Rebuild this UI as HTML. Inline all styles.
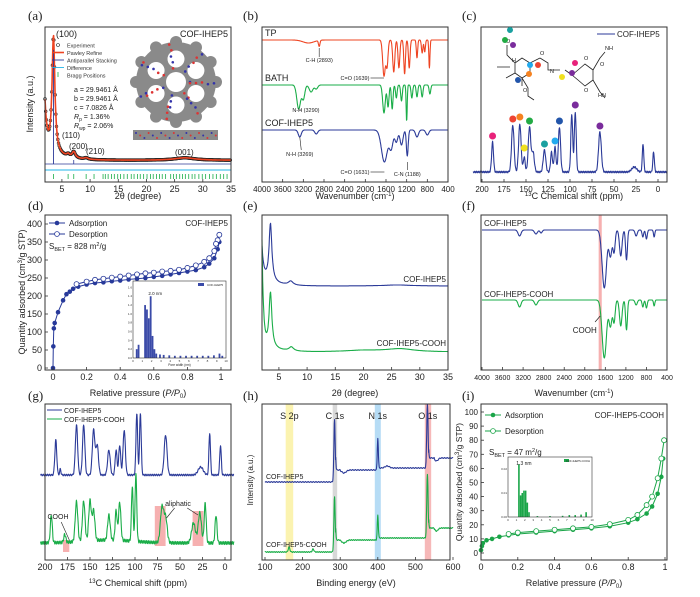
<!DOCTYPE html>
<html><head><meta charset="utf-8">
<style>
html,body{margin:0;padding:0;background:#fff;}
svg{display:block;font-family:"Liberation Sans",sans-serif;}
</style></head>
<body>
<svg id="fig" width="700" height="597" viewBox="0 0 700 597" xmlns="http://www.w3.org/2000/svg"></svg>
<script>
// ---------- DATA ----------
// (a) PXRD [2theta, intensity, halfwidth]
const aPeaks = [[3.5,0.95,0.3],[6.1,0.02,0.3],[7.1,0.05,0.35],[9.3,0.012,0.4],[26.8,0.02,2.2]];
const aBragg = [3.5,6.1,7.1,9.3,10.7,12.3,12.7,13.2,13.8,14.3,14.9,15.4,16.0,16.6,17.3,17.8,18.4,18.9,19.5,20.1,20.7,21.2,21.8,22.3,22.8,23.4,24.3,24.8,25.3,25.9,26.4,26.9,27.5,28.1,28.6,29.3,29.9,30.5,31.2,31.8,32.4,33.1,33.7,34.3];
const aTicks = [5,10,15,20,25,30,35];
// (b) FTIR monomers [position, depth px, width]
const bTP = [[3100,3,150],[2893,6,20],[1639,36,35],[1580,26,28],[1450,32,28],[1350,28,25],[1240,34,22],[1150,28,22],[1000,18,18],[900,13,20],[850,12,18],[760,28,15]];
const bBATH = [[3290,24,50],[3200,14,40],[3050,7,50],[2950,4,40],[1639,28,35],[1560,22,25],[1480,24,22],[1400,13,22],[1300,16,22],[1200,36,15],[1100,13,22],[1000,12,22],[900,12,22],[750,9,22]];
const bCOF = [[3269,7,40],[2950,4,40],[1631,32,80],[1500,18,50],[1400,12,40],[1300,15,40],[1188,26,25],[1000,7,40],[800,5,40]];
const bTicks = [4000,3600,3200,2800,2400,2000,1600,1200,800,400];
// (c) 13C NMR [ppm, height px, width]
const cPeaks = [[188,30,1.5],[165,47,2],[157,48,2],[152,15,1.5],[146,45,2],[142,20,2],[129,22,2],[121,20,1.5],[117,25,1.5],[112,45,1.8],[98,58,1.5],[94,60,1.5],[66,40,2.2],[27,5,4],[17,28,1.2],[5,20,1.2]];
const cDots = [[188,'#e8227a',36],[165,'#ee4433',53],[157,'#f58220',55],[152,'#f0e020',24],[146,'#22aa44',51],[129,'#1aa0a0',28],[117,'#22aaee',31],[112,'#2255aa',51],[94,'#7a2c9c',67],[66,'#7a2c9c',46]];
const cTicks = [200,175,150,125,100,75,50,25,0];
// (d) N2 isotherm COF-IHEP5
const dAdsX = [0,0.002,0.005,0.01,0.03,0.06,0.08,0.1,0.12,0.15,0.2,0.25,0.3,0.35,0.4,0.45,0.5,0.55,0.6,0.65,0.7,0.75,0.8,0.85,0.9,0.93,0.96,0.98,0.99];
const dAdsY = [0,60,110,125,155,188,205,212,220,226,232,236,238,241,243,246,248,250,253,256,260,264,268,272,280,290,305,330,350];
const dDesX = [0.99,0.98,0.97,0.96,0.93,0.9,0.85,0.8,0.75,0.7,0.65,0.6,0.55,0.5,0.45,0.4,0.35,0.3,0.25,0.2,0.14];
const dDesY = [370,355,345,325,305,295,285,278,273,270,268,265,263,260,257,254,251,248,245,240,233];
const dHistX = [0.4,0.6,1.3,1.5,1.7,1.9,2.1,2.3,2.5,2.9,3.3,3.9,4.5,5.1,5.7,6.3,6.9,7.5,8.1,8.7,9.3,9.6];
const dHistY = [0.2,0.3,1.2,1.1,0.9,1.4,0.5,0.2,0.1,0.08,0.07,0.06,0.05,0.05,0.05,0.05,0.05,0.05,0.05,0.06,0.1,0.05];
const dTicksX = [0,0.2,0.4,0.6,0.8,1.0];
const dTicksY = [0,50,100,150,200,250,300,350,400];
// (e) PXRD comparison [2theta, height px, halfwidth]
const eBlue = [[3.5,58,0.3],[7.1,4,0.5],[26,1,3]];
const eGreen = [[3.5,55,0.3],[7.2,4,0.5],[26.5,3,3],[20,1.5,4]];
const eTicks = [5,10,15,20,25,30,35];
// (f) FTIR comparison
const fBlue = [[3269,6,40],[2950,4,40],[2850,3,30],[1620,58,60],[1500,26,40],[1430,22,30],[1300,26,35],[1188,30,25],[1000,6,30],[870,7,22],[800,9,22],[650,7,18]];
const fGreen = [[3269,7,40],[2950,5,40],[1620,58,60],[1500,26,40],[1430,22,30],[1300,26,35],[1188,30,25],[1000,5,30],[870,7,22],[800,8,22],[650,6,18]];
const fTicks = [4000,3600,3200,2800,2400,2000,1600,1200,800,400];
// (g) NMR comparison
const gBlue = [[188,35,1.5],[183,6,1],[165,50,1.8],[157,50,1.8],[146,45,2],[142,30,2],[129,25,2],[121,25,1.5],[117,30,1.5],[112,45,1.8],[98,62,1.3],[94,62,1.3],[66,40,2.2],[27,8,4],[17,42,1.2],[5,30,1.2]];
const gGreen = [[193,28,1.5],[178,8,1.5],[165,40,2],[157,40,2],[150,40,2],[146,30,2],[129,25,2],[121,30,1.5],[117,38,1.8],[103,55,1.3],[99,68,1.3],[70,35,2.5],[66,25,2.5],[35,20,3],[28,30,2.5],[22,40,1.5],[10,28,1.5]];
const gTicks = [200,175,150,125,100,75,50,25,0];
// (h) XPS [eV, height px, width]
const hBlue = [[285,62,2.5],[400,32,2],[532,64,2.5],[425,2,8]];
const hGreen = [[164,5,3],[228,3,3],[285,55,2.5],[400,25,2],[532,64,2.5]];
const hTicks = [100,200,300,400,500,600];
// (i) N2 isotherm COF-IHEP5-COOH
const iAdsX = [0,0.005,0.01,0.03,0.06,0.1,0.15,0.2,0.3,0.4,0.5,0.6,0.7,0.8,0.85,0.9,0.93,0.96,0.98,0.99];
const iAdsY = [2,5,7,9,10,11.5,12.5,13.5,14.5,15.5,16.5,17.5,19,21.5,24,28,33,42,54,67];
const iDesX = [0.995,0.98,0.96,0.93,0.9,0.85,0.8,0.7,0.6,0.5,0.4,0.3,0.2,0.15];
const iDesY = [80,67,53,40,34,27,23.5,20.5,18.5,17.5,16.5,15.5,14.5,13.5];
const iHistX = [1.3,1.5,1.7,1.9,2.1,2.3,2.5,3.5,5,6.5,7.3,8,8.7,9.3];
const iHistY = [0.022,0.009,0.010,0.011,0.011,0.006,0.002,0.0004,0.0004,0.0005,0.0008,0.0008,0.001,0.002];
const iTicksX = [0,0.2,0.4,0.6,0.8,1.0];
const iTicksY = [0,10,20,30,40,50,60,70,80,90,100];

// ---------- HELPERS ----------
const NS = 'http://www.w3.org/2000/svg';
const svg = document.getElementById('fig');
function mk(tag, attrs, parent){const e=document.createElementNS(NS,tag);for(const k in attrs)e.setAttribute(k,attrs[k]);(parent||svg).appendChild(e);return e;}
function tag(e,n){


return e;}
function txt(x,y,s,o,name){o=o||{};const t=mk('text',Object.assign({x:x,y:y,'font-size':9,fill:'#222'},o));t.textContent=s;tag(t,name||'label');return t;}
function lin(a,b,c,d){return v=>c+(v-a)*(d-c)/(b-a);}
function gauss(v,pk){let s=0;for(const p of pk){s+=p[1]*Math.exp(-Math.pow((v-p[0])/p[2],2));}return s;}
function lorentz(v,pk){let s=0;for(const p of pk){s+=p[1]/(1+Math.pow((v-p[0])/p[2],2));}return s;}
function pathFrom(pts){return 'M'+pts.map(p=>p[0].toFixed(1)+','+p[1].toFixed(1)).join('L');}
function curve(xs,ys,v0,v1,n,fn,color,name,w){const pts=[];for(let i=0;i<=n;i++){const v=v0+(v1-v0)*i/n;pts.push([xs(v),ys(fn(v))]);}const p=mk('path',{d:pathFrom(pts),fill:'none',stroke:color,'stroke-width':w||1.1,'stroke-linejoin':'round'});tag(p,name);return p;}
function frame(x0,y0,x1,y1,name){const r=mk('rect',{x:x0,y:y0,width:x1-x0,height:y1-y0,fill:'none',stroke:'#333','stroke-width':1});tag(r,name);}
function xTicks(xs,ticks,y1,name,fs){const g=mk('g',{});tag(g,name);for(const t of ticks){const X=xs(t);mk('line',{x1:X,x2:X,y1:y1,y2:y1-3,stroke:'#333','stroke-width':0.8},g);const tt=mk('text',{x:X,y:y1+10,'font-size':fs||9,'text-anchor':'middle',fill:'#222'},g);tt.textContent=String(t);}}
function yTicks(ys,ticks,x0,name,fmt,fs){const g=mk('g',{});tag(g,name);for(const t of ticks){const Y=ys(t);mk('line',{x1:x0,x2:x0+3,y1:Y,y2:Y,stroke:'#333','stroke-width':0.8},g);const tt=mk('text',{x:x0-3,y:Y+3,'font-size':fs||9,'text-anchor':'end',fill:'#222'},g);tt.textContent=fmt?fmt(t):String(t);}}
function panelLabel(x,y,s){txt(x,y,s,{'font-size':13,'font-family':'"Liberation Serif",serif'},'panel-label');}
const BLUE='#2b3a98',GREEN='#1aad48',RED='#ee4422';

// ---------- (a) ----------
(function(){
const x0=45,x1=231,y0=27,y1=182;
const xs=lin(2,35,45,231), ys=lin(0,1,163,40);
panelLabel(28,20,'(a)');
const f=v=>0.022+0.05*Math.exp(-(v-4)/2.5)+0.35*Math.exp(-(v-2)/0.35)+lorentz(v,aPeaks);
const g=mk('g',{});tag(g,'experiment-points');
for(let v=2;v<=35;v+=0.12){mk('circle',{cx:xs(v),cy:ys(f(v)),r:1.4,fill:'none',stroke:'#222','stroke-width':0.6},g);}
curve(xs,ys,2,35,500,f,RED,'pawley-refine-line',1.6);
mk('line',{x1:x0,x2:x1,y1:164,y2:164,stroke:BLUE,'stroke-width':0.8});
tag(mk('line',{x1:xs(3.5),x2:xs(3.5),y1:164,y2:ys(0.92),stroke:BLUE,'stroke-width':0.9}),'stacking-peak');
tag(mk('line',{x1:xs(7.1),x2:xs(7.1),y1:164,y2:160,stroke:BLUE,'stroke-width':0.8}),'stacking-peak');
curve(xs,v=>170,2,35,200,v=>v,'#22b5e8','difference-line',0.9);
const gb=mk('g',{});tag(gb,'bragg-positions');
for(const b of aBragg){mk('line',{x1:xs(b),x2:xs(b),y1:174,y2:179,stroke:GREEN,'stroke-width':0.8},gb);}
frame(x0,y0,x1,y1,'frame-a');
xTicks(xs,aTicks,y1,'x-axis-a');
txt(138,199,'2θ (degree)',{'font-size':9,'text-anchor':'middle'},'x-axis-title');
txt(33,104,'Intensity (a.u.)',{'font-size':9,'text-anchor':'middle',transform:'rotate(-90 33 104)'},'y-axis-title');
txt(56,37,'(100)',{'font-size':9},'peak-label');
txt(62,138,'(110)',{'font-size':8},'peak-label');
txt(69,149,'(200)',{'font-size':8},'peak-label');
txt(86,154,'(210)',{'font-size':8},'peak-label');
txt(175,155,'(001)',{'font-size':8},'peak-label');
txt(228,37,'COF-IHEP5',{'font-size':9,'text-anchor':'end'},'sample-label');
const L=[['Experiment','c'],['Pawley Refine',RED],['Antiparallel Stacking',BLUE],['Difference','#22b5e8'],['Bragg Positions',GREEN]];
L.forEach((l,i)=>{const yy=47+i*7.5;const lg=mk('g',{});tag(lg,'legend-entry');
if(l[1]==='c'){mk('circle',{cx:58,cy:yy-2,r:1.5,fill:'none',stroke:'#222','stroke-width':0.6},lg);}
else if(i===4){mk('line',{x1:58,x2:58,y1:yy-5,y2:yy,stroke:l[1],'stroke-width':0.8},lg);}
else{mk('line',{x1:52,x2:64,y1:yy-2,y2:yy-2,stroke:l[1],'stroke-width':i===1?1.6:0.9},lg);}
const t=mk('text',{x:67,y:yy+0.5,'font-size':5.5,fill:'#333'},lg);t.textContent=l[0];});
['a = 29.9461 Å','b = 29.9461 Å','c = 7.0826 Å'].forEach((s,i)=>txt(74,92+i*9,s,{'font-size':7},'cell-param'));
const rp=txt(74,119,'',{'font-size':7},'r-factor');rp.innerHTML='<tspan font-style="italic">R</tspan><tspan font-size="5" dy="2">p</tspan><tspan dy="-2"> = 1.36%</tspan>';
const rwp=txt(74,128,'',{'font-size':7},'r-factor');rwp.innerHTML='<tspan font-style="italic">R</tspan><tspan font-size="5" dy="2">wp</tspan><tspan dy="-2"> = 2.06%</tspan>';
const st=mk('g',{});tag(st,'structure-image');
mk('circle',{cx:176,cy:82,r:40,fill:'#8a8a8a'},st);
for(let k=0;k<12;k++){const a=k*Math.PI/6;mk('circle',{cx:176+40*Math.cos(a),cy:82+40*Math.sin(a),r:6,fill:'#8a8a8a'},st);}
mk('circle',{cx:176,cy:82,r:10,fill:'#fff'},st);
for(let k=0;k<6;k++){const a=k*Math.PI/3+Math.PI/6;mk('circle',{cx:176+23*Math.cos(a),cy:82+23*Math.sin(a),r:8.5,fill:'#fff'},st);}
for(let k=0;k<40;k++){const a=k*0.9;const r=14+(k%5)*6;mk('circle',{cx:176+r*Math.cos(a),cy:82+r*Math.sin(a),r:1.3,fill:k%2?'#d33':'#33a'},st);}
mk('rect',{x:133,y:130,width:85,height:10,fill:'#8a8a8a'},st);
for(let k=0;k<20;k++){mk('circle',{cx:136+k*4.2,cy:133+(k%3)*2.5,r:1,fill:k%2?'#d33':'#33a'},st);}
})();

// ---------- (b) ----------
(function(){
const x0=262,x1=448,y0=27,y1=182;
const xs=lin(4000,400,262,448);
panelLabel(243,20,'(b)');
curve(xs,v=>v,4000,400,700,v=>40+gauss(v,bTP),RED,'tp-spectrum');
curve(xs,v=>v,4000,400,700,v=>85+gauss(v,bBATH),GREEN,'bath-spectrum');
curve(xs,v=>v,4000,400,700,v=>130+gauss(v,bCOF),BLUE,'cof-spectrum');
frame(x0,y0,x1,y1,'frame-b');
xTicks(xs,bTicks,y1,'x-axis-b',8);
txt(355,199,'',{'font-size':9,'text-anchor':'middle'},'x-axis-title').innerHTML='Wavenumber (cm<tspan font-size="6" dy="-3">-1</tspan><tspan dy="3">)</tspan>';
txt(265,36,'TP',{'font-size':9},'series-label');
txt(265,81,'BATH',{'font-size':9},'series-label');
txt(265,126,'COF-IHEP5',{'font-size':9},'series-label');
const ann=[[xs(2893),48,xs(2893),57,'C-H (2893)',xs(2893),62],[xs(3290),110,xs(3230),110,'N-H (3290)',xs(3150),112],[xs(3269),137,xs(3240),150,'N-H (3269)',xs(3269),156],[xs(1639),78,xs(1900),78,'C=O (1639)',xs(2200),80],[xs(1631),172,xs(1900),172,'C=O (1631)',xs(2200),174],[xs(1188),162,xs(1188),170,'C-N (1188)',xs(1188),176]];
for(const a of ann){const g=mk('g',{});tag(g,'annotation');mk('line',{x1:a[0],y1:a[1],x2:a[2],y2:a[3],stroke:'#222','stroke-width':0.6},g);const t=mk('text',{x:a[5],y:a[6],'font-size':5.5,'text-anchor':'middle',fill:'#222'},g);t.textContent=a[4];}
})();

// ---------- (c) ----------
(function(){
const x0=481,x1=667,y0=27,y1=182;
const xs=lin(200,0,482,658);
panelLabel(462,20,'(c)');
curve(xs,v=>v,210,-10,700,v=>172-gauss(v,cPeaks)+Math.sin(v*3.1)*0.8,BLUE,'nmr-spectrum');
const gd=mk('g',{});tag(gd,'peak-markers');
for(const d of cDots){mk('circle',{cx:xs(d[0]),cy:172-d[2],r:3.5,fill:d[1]},gd);}
frame(x0,y0,x1,y1,'frame-c');
xTicks(xs,cTicks,y1,'x-axis-c',8);
txt(574,199,'',{'font-size':9,'text-anchor':'middle'},'x-axis-title').innerHTML='<tspan font-size="6" dy="-3">13</tspan><tspan dy="3">C Chemical shift (ppm)</tspan>';
const lg=mk('g',{});tag(lg,'legend-entry');
mk('line',{x1:597,x2:615,y1:34,y2:34,stroke:BLUE,'stroke-width':1},lg);
const lt=mk('text',{x:617,y:37,'font-size':8,fill:'#222'},lg);lt.textContent='COF-IHEP5';
const m=mk('g',{fill:'none',stroke:'#222','stroke-width':0.8});tag(m,'molecule-structure');
mk('path',{d:'M515,63 L522,58 L530,63 L530,73 L522,78 L515,73 Z M522,78 L522,86 M515,73 L506,78 M530,63 L540,58 M507,45 L507,55 L515,63 M510,67 L497,67 M540,58 L548,63 L548,70 L555,70 M555,70 L560,70 M565,70 L572,75 M572,75 L578,70 L585,64 L593,70 L593,80 L585,86 L578,80 Z M593,70 L600,58 M593,80 L600,92 M600,58 L605,52 M600,92 L605,98 M522,78 L528,88 L528,96 L534,100'},m);
const mt=[['O',523,92],['O',540,55],['N',550,73],['O',584,60],['O',600,66],['O',584,92],['NH',605,50],['HN',598,97],['H',512,62],['O',506,43]];
for(const q of mt){const t=mk('text',{x:q[1],y:q[2],'font-size':5.5,fill:'#222'},m);t.setAttribute('stroke','none');t.textContent=q[0];}
const md=[[510,30,'#1aa0a0'],[505,40,'#22aa44'],[513,45,'#7a2c9c'],[530,65,'#22aaee'],[538,65,'#ee4433'],[529,74,'#f58220'],[518,80,'#2255aa'],[562,77,'#f0e020'],[572,73,'#7a2c9c'],[575,63,'#e8227a']];
for(const d of md){const c=mk('circle',{cx:d[0],cy:d[1],r:3,fill:d[2]},m);c.setAttribute('stroke','none');}
})();

function isotherm(xs,ys,ax,ay,dx,dy,color){
const g=mk('g',{});tag(g,'adsorption-series');
mk('path',{d:pathFrom(ax.map((v,i)=>[xs(v),ys(ay[i])])),fill:'none',stroke:color,'stroke-width':1},g);
ax.forEach((v,i)=>mk('circle',{cx:xs(v),cy:ys(ay[i]),r:2.3,fill:color},g));
const g2=mk('g',{});tag(g2,'desorption-series');
mk('path',{d:pathFrom(dx.map((v,i)=>[xs(v),ys(dy[i])])),fill:'none',stroke:color,'stroke-width':1},g2);
dx.forEach((v,i)=>mk('circle',{cx:xs(v),cy:ys(dy[i]),r:2.5,fill:'#fff',stroke:color,'stroke-width':0.8},g2));}

// ---------- (d) ----------
(function(){
const x0=45,x1=231,y0=215,y1=370;
const xs=lin(0,1,53,221), ys=lin(0,400,368,224);
panelLabel(28,210,'(d)');
isotherm(xs,ys,dAdsX,dAdsY,dDesX,dDesY,'#27399a');
frame(x0,y0,x1,y1,'frame-d');
xTicks(xs,dTicksX,y1,'x-axis-d',9);
yTicks(ys,dTicksY,x0,'y-axis-d');
txt(138,396,'',{'font-size':9,'text-anchor':'middle'},'x-axis-title').innerHTML='Relative pressure (<tspan font-style="italic">P/P</tspan><tspan font-size="6" dy="2">0</tspan><tspan dy="-2">)</tspan>';
txt(25,292,'',{'font-size':9,'text-anchor':'middle',transform:'rotate(-90 25 292)'},'y-axis-title').innerHTML='Quantity adsorbed (cm<tspan font-size="6" dy="-3">3</tspan><tspan dy="3">/g STP)</tspan>';
txt(228,226,'COF-IHEP5',{'font-size':8,'text-anchor':'end'},'sample-label');
const l1=mk('g',{});tag(l1,'legend-entry');mk('line',{x1:49,x2:65,y1:223,y2:223,stroke:'#27399a'},l1);mk('circle',{cx:57,cy:223,r:2.3,fill:'#27399a'},l1);const t1=mk('text',{x:69,y:226,'font-size':8,fill:'#222'},l1);t1.textContent='Adsorption';
const l2=mk('g',{});tag(l2,'legend-entry');mk('line',{x1:49,x2:65,y1:234,y2:234,stroke:'#27399a'},l2);mk('circle',{cx:57,cy:234,r:2.4,fill:'#fff',stroke:'#27399a','stroke-width':0.8},l2);const t2=mk('text',{x:69,y:237,'font-size':8,fill:'#222'},l2);t2.textContent='Desorption';
txt(49,249,'',{'font-size':8},'bet-label').innerHTML='S<tspan font-size="5.5" dy="2">BET</tspan><tspan dy="-2"> = 828 m</tspan><tspan font-size="5.5" dy="-3">2</tspan><tspan dy="3">/g</tspan>';
const ix0=133,ix1=226,iy0=281,iy1=358;
mk('rect',{x:ix0,y:iy0,width:ix1-ix0,height:iy1-iy0,fill:'#fff'});
const hx=lin(0,10,ix0,ix1), hy=lin(0,1.7,iy1,iy0+2);
const gh=mk('g',{});tag(gh,'pore-size-histogram');
dHistX.forEach((v,i)=>mk('rect',{x:hx(v)-0.9,y:hy(dHistY[i]),width:1.8,height:iy1-hy(dHistY[i]),fill:'#3a4aa8'},gh));
tag(mk('rect',{x:ix0,y:iy0,width:ix1-ix0,height:iy1-iy0,fill:'none',stroke:'#333','stroke-width':0.6}),'inset-frame');
txt(hx(2.4),iy0+14,'2.0 nm',{'font-size':4.5,'text-anchor':'middle'},'peak-label');
txt(ix1-3,iy0+5,'COF-IHEP5',{'font-size':3,'text-anchor':'end'},'inset-legend');
mk('rect',{x:ix1-28,y:iy0+2,width:6,height:3,fill:'#3a4aa8'});
const gx=mk('g',{});tag(gx,'inset-x-axis');
for(let t=0;t<=10;t++){const tt=mk('text',{x:hx(t),y:iy1+4,'font-size':3,'text-anchor':'middle',fill:'#333'},gx);tt.textContent=t;}
const gy=mk('g',{});tag(gy,'inset-y-axis');
for(let t=0;t<=8;t++){const v=t*0.2;const tt=mk('text',{x:ix0-1,y:hy(v)+1,'font-size':3,'text-anchor':'end',fill:'#333'},gy);tt.textContent=v.toFixed(1);}
txt((ix0+ix1)/2,iy1+8,'Pore width (nm)',{'font-size':3.2,'text-anchor':'middle'},'inset-x-title');
})();

// ---------- (e) ----------
(function(){
const x0=262,x1=448,y0=215,y1=370;
const xs=lin(2,35,262,448);
panelLabel(243,210,'(e)');
curve(xs,v=>v,2,35,500,v=>286-lorentz(v,eBlue)-28*Math.exp(-(v-2)/0.3)-6*Math.exp(-(v-3)/2),BLUE,'cof-ihep5-pattern');
curve(xs,v=>v,2,35,500,v=>352-lorentz(v,eGreen)-100*Math.exp(-(v-2)/0.25)-6*Math.exp(-(v-3)/2),GREEN,'cof-ihep5-cooh-pattern');
frame(x0,y0,x1,y1,'frame-e');
xTicks(xs,eTicks,y1,'x-axis-e',9);
txt(355,396,'2θ (degree)',{'font-size':9,'text-anchor':'middle'},'x-axis-title');
txt(446,282,'COF-IHEP5',{'font-size':8,'text-anchor':'end'},'series-label');
txt(446,346,'COF-IHEP5-COOH',{'font-size':8,'text-anchor':'end'},'series-label');
})();

// ---------- (f) ----------
(function(){
const x0=481,x1=667,y0=215,y1=370;
const xs=lin(4000,400,482,667);
panelLabel(462,210,'(f)');
tag(mk('rect',{x:xs(1730),y:y0,width:xs(1670)-xs(1730),height:y1-y0,fill:'#f6b0b0'}),'cooh-band');
curve(xs,v=>v,4000,400,700,v=>230+gauss(v,fBlue),BLUE,'cof-ihep5-spectrum');
curve(xs,v=>v,4000,400,700,v=>300+gauss(v,fGreen),GREEN,'cof-ihep5-cooh-spectrum');
frame(x0,y0,x1,y1,'frame-f');
xTicks(xs,fTicks,y1,'x-axis-f',7);
txt(574,396,'',{'font-size':9,'text-anchor':'middle'},'x-axis-title').innerHTML='Wavenumber (cm<tspan font-size="6" dy="-3">-1</tspan><tspan dy="3">)</tspan>';
txt(484,226,'COF-IHEP5',{'font-size':8},'series-label');
txt(484,297,'COF-IHEP5-COOH',{'font-size':8},'series-label');
const a=mk('g',{});tag(a,'cooh-annotation');
mk('line',{x1:xs(1700),y1:316,x2:xs(1800),y2:322,stroke:'#222','stroke-width':0.7},a);
const t=mk('text',{x:xs(2000),y:333,'font-size':8,'text-anchor':'middle',fill:'#222'},a);t.textContent='COOH';
})();

// ---------- (g) ----------
(function(){
const x0=45,x1=231,y0=404,y1=560;
const xs=lin(200,0,45,225);
panelLabel(28,400,'(g)');
curve(xs,v=>v,205,-10,700,v=>475-gauss(v,gBlue)+Math.sin(v*2.7)*0.8,BLUE,'cof-ihep5-nmr');
tag(mk('rect',{x:xs(180),y:540,width:xs(173)-xs(180),height:12,fill:'#f6b0b0'}),'cooh-region');
tag(mk('rect',{x:xs(78),y:506,width:xs(66)-xs(78),height:40,fill:'#f6b0b0'}),'aliphatic-region');
tag(mk('rect',{x:xs(36),y:511,width:xs(24)-xs(36),height:35,fill:'#f6b0b0'}),'aliphatic-region');
curve(xs,v=>v,205,-10,700,v=>543-gauss(v,gGreen)+Math.sin(v*3.3)*1.5-3*Math.exp(-Math.pow((v-130)/40,2)),GREEN,'cof-ihep5-cooh-nmr');
frame(x0,y0,x1,y1,'frame-g');
xTicks(xs,gTicks,y1,'x-axis-g',9);
txt(138,586,'',{'font-size':9,'text-anchor':'middle'},'x-axis-title').innerHTML='<tspan font-size="6" dy="-3">13</tspan><tspan dy="3">C Chemical shift (ppm)</tspan>';
const l1=mk('g',{});tag(l1,'legend-entry');mk('line',{x1:47,x2:62,y1:410,y2:410,stroke:BLUE},l1);const t1=mk('text',{x:64,y:413,'font-size':7,fill:'#222'},l1);t1.textContent='COF-IHEP5';
const l2=mk('g',{});tag(l2,'legend-entry');mk('line',{x1:47,x2:62,y1:419,y2:419,stroke:GREEN},l2);const t2=mk('text',{x:64,y:422,'font-size':7,fill:'#222'},l2);t2.textContent='COF-IHEP5-COOH';
txt(178,506,'aliphatic',{'font-size':7,'text-anchor':'middle'},'annotation');
txt(58,519,'COOH',{'font-size':7,'text-anchor':'middle'},'annotation');
const ar=mk('g',{stroke:'#222','stroke-width':0.6});tag(ar,'annotation-arrows');
mk('line',{x1:xs(173),y1:540,x2:xs(182),y2:522},ar);
mk('line',{x1:xs(65),y1:518,x2:xs(56),y2:508},ar);
mk('line',{x1:xs(30),y1:515,x2:xs(42),y2:508},ar);
})();

// ---------- (h) ----------
(function(){
const x0=262,x1=450,y0=404,y1=560;
const xs=lin(100,600,265,453);
panelLabel(243,400,'(h)');
const bands=[[155,175,'#fbf3b0'],[280,292,'#d8d8d8'],[392,408,'#b6dcf5'],[525,542,'#f6b8b8']];
for(const b of bands){tag(mk('rect',{x:xs(b[0]),y:y0,width:xs(b[1])-xs(b[0]),height:y1-y0,fill:b[2]}),'element-band');}
const step=v=>(v>288?12:0)+(v>300?-3*Math.exp(-Math.pow((v-310)/8,2)):0)+(v>402?2:0)+(v>535?10:0)+(v>550?-3*Math.exp(-Math.pow((v-556)/6,2)):0);
curve(xs,v=>v,100,600,800,v=>482-step(v)-gauss(v,hBlue)+Math.sin(v*0.9)*0.4,BLUE,'cof-ihep5-xps');
curve(xs,v=>v,100,600,800,v=>552-step(v)-gauss(v,hGreen)+Math.sin(v*1.1)*0.4,GREEN,'cof-ihep5-cooh-xps');
frame(x0,y0,x1,y1,'frame-h');
xTicks(xs,hTicks,y1,'x-axis-h',9);
txt(356,586,'Binding energy (eV)',{'font-size':9,'text-anchor':'middle'},'x-axis-title');
txt(253,480,'Intensity (a.u.)',{'font-size':8,'text-anchor':'middle',transform:'rotate(-90 253 480)'},'y-axis-title');
txt(266,479,'COF-IHEP5',{'font-size':7},'series-label');
txt(266,547,'COF-IHEP5-COOH',{'font-size':7},'series-label');
[['S 2p',165],['C 1s',286],['N 1s',400],['O 1s',533]].forEach(s=>txt(xs(s[1]),419,s[0],{'font-size':9,'text-anchor':'middle'},'element-label'));
})();

// ---------- (i) ----------
(function(){
const x0=481,x1=667,y0=404,y1=560;
const xs=lin(0,1,481,665), ys=lin(0,100,553,412);
panelLabel(462,400,'(i)');
isotherm(xs,ys,iAdsX,iAdsY,iDesX,iDesY,'#1aa548');
frame(x0,y0,x1,y1,'frame-i');
xTicks(xs,iTicksX,y1,'x-axis-i',9);
yTicks(ys,iTicksY,x0,'y-axis-i',null,8);
txt(574,586,'',{'font-size':9,'text-anchor':'middle'},'x-axis-title').innerHTML='Relative pressure (<tspan font-style="italic">P/P</tspan><tspan font-size="6" dy="2">0</tspan><tspan dy="-2">)</tspan>';
txt(462,482,'',{'font-size':8.5,'text-anchor':'middle',transform:'rotate(-90 462 482)'},'y-axis-title').innerHTML='Quantity adsorbed (cm<tspan font-size="6" dy="-3">3</tspan><tspan dy="3">/g STP)</tspan>';
txt(664,418,'COF-IHEP5-COOH',{'font-size':8,'text-anchor':'end'},'sample-label');
const l1=mk('g',{});tag(l1,'legend-entry');mk('line',{x1:485,x2:501,y1:415,y2:415,stroke:'#1aa548'},l1);mk('circle',{cx:493,cy:415,r:2.3,fill:'#1aa548'},l1);const t1=mk('text',{x:505,y:418,'font-size':8,fill:'#222'},l1);t1.textContent='Adsorption';
const l2=mk('g',{});tag(l2,'legend-entry');mk('line',{x1:485,x2:501,y1:431,y2:431,stroke:'#1aa548'},l2);mk('circle',{cx:493,cy:431,r:2.4,fill:'#fff',stroke:'#1aa548','stroke-width':0.8},l2);const t2=mk('text',{x:505,y:434,'font-size':8,fill:'#222'},l2);t2.textContent='Desorption';
txt(489,455,'',{'font-size':8},'bet-label').innerHTML='S<tspan font-size="5.5" dy="2">BET</tspan><tspan dy="-2"> = 47 m</tspan><tspan font-size="5.5" dy="-3">2</tspan><tspan dy="3">/g</tspan>';
const ix0=508,ix1=592,iy0=457,iy1=517;
mk('rect',{x:ix0,y:iy0,width:ix1-ix0,height:iy1-iy0,fill:'#fff'});
const hx=lin(0,10,ix0,ix1), hy=lin(0,0.025,iy1,iy0);
const gh=mk('g',{});tag(gh,'pore-size-histogram');
iHistX.forEach((v,i)=>mk('rect',{x:hx(v)-0.8,y:hy(iHistY[i]),width:1.6,height:iy1-hy(iHistY[i]),fill:'#1aa548'},gh));
tag(mk('rect',{x:ix0,y:iy0,width:ix1-ix0,height:iy1-iy0,fill:'none',stroke:'#333','stroke-width':0.6}),'inset-frame');
txt(hx(1.9),iy0+8,'1.3 nm',{'font-size':5,'text-anchor':'middle'},'peak-label');
mk('rect',{x:ix1-28,y:iy0+2,width:5,height:3,fill:'#1aa548'});
txt(ix1-2,iy0+5,'COF-IHEP5-COOH',{'font-size':2.8,'text-anchor':'end'},'inset-legend');
const gy=mk('g',{});tag(gy,'inset-y-axis');
[0,0.01,0.02].forEach(v=>{const tt=mk('text',{x:ix0-1,y:hy(v)+1,'font-size':3,'text-anchor':'end',fill:'#333'},gy);tt.textContent=v.toFixed(2);});
const gx=mk('g',{});tag(gx,'inset-x-axis');
for(let t=0;t<=10;t++){const tt=mk('text',{x:hx(t),y:iy1+4,'font-size':3,'text-anchor':'middle',fill:'#333'},gx);tt.textContent=t;}
})();
</script>
</body></html>
